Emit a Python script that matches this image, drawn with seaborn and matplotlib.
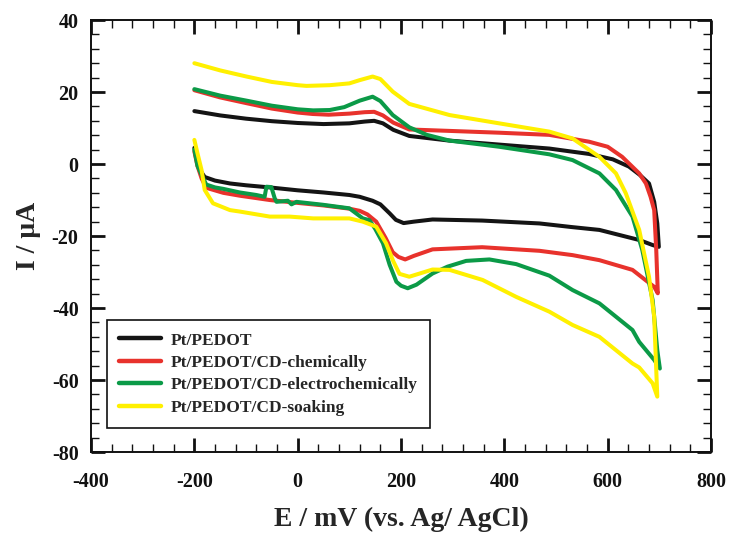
import numpy as np
import pandas as pd
import matplotlib
matplotlib.use("Agg")
import matplotlib.pyplot as plt
import seaborn as sns
from matplotlib.ticker import MultipleLocator

# ---- data ----
labels = ["Pt/PEDOT", "Pt/PEDOT/CD-chemically",
          "Pt/PEDOT/CD-electrochemically", "Pt/PEDOT/CD-soaking"]
colors = ["#141414", "#e8322c", "#0b9a47", "#fff000"]

pedot_E = [-200, -150, -100, -50, 0, 50, 100, 130, 148, 165, 185, 216, 294, 390, 487, 564, 610, 641,
           662, 680, 690, 696, 699,
           687, 661, 584, 530, 468, 357, 261, 225, 205, 190, 178, 160, 145, 120, 100, 50, 0, -54,
           -100, -131, -160, -180, -190, -196, -200]
pedot_I = [14.7, 13.5, 12.6, 11.9, 11.4, 11.1, 11.3, 11.8, 12.0, 11.3, 9.5, 7.8, 6.5, 5.4, 4.3, 2.8, 1.3, -0.7,
           -3.0, -5.4, -10.5, -16.5, -23.0,
           -22.5, -21.1, -18.3, -17.5, -16.5, -15.7, -15.4, -16.0, -16.4, -15.5, -13.7, -11.2, -10.2, -9.1,
           -8.6, -7.9, -7.3, -6.5, -5.9, -5.4, -4.6, -3.6, -1.5, 1.5, 4.5]

chem_E = [-200, -150, -99, -50, 0, 29, 60, 100, 130, 148, 165, 185, 216, 294, 390, 487, 564, 600, 628,
          661, 674, 683, 690, 694, 697,
          690, 680, 648, 584, 532, 468, 357, 261, 225, 208, 195, 184, 170, 152, 135, 120, 100, 50, 0,
          -54, -112, -144, -177, -186, -194, -200]
chem_I = [20.5, 18.5, 16.9, 15.4, 14.3, 13.9, 13.7, 14.0, 14.4, 14.5, 13.5, 11.5, 9.6, 9.2, 8.7, 8.1, 6.2,
          4.8, 2.0, -2.6, -5.4, -9.1, -12.8, -23.9, -35.9,
          -34.1, -33.0, -29.4, -26.7, -25.3, -24.1, -23.1, -23.7, -25.5, -26.5, -25.8, -24.5, -20.5, -16.0,
          -14.0, -13.0, -12.4, -11.5, -10.8, -10.0, -8.8, -8.0, -6.6, -4.0, -0.5, 3.5]

echem_E = [-200, -150, -99, -50, 0, 30, 62, 90, 120, 145, 160, 184, 216, 250, 294, 390, 487, 532, 584,
           616, 648, 667, 687, 696, 701,
           690, 661, 648, 584, 532, 487, 423, 371, 326, 290, 261, 230, 213, 200, 191, 178, 165, 150, 139,
           126, 100, 48, -2.5, -12, -19, -41, -44.5, -51, -60.5, -64, -80, -112, -144, -160, -177, -186,
           -194, -200]
echem_I = [20.8, 19.0, 17.6, 16.2, 15.2, 14.9, 15.0, 15.8, 17.6, 18.7, 17.5, 13.6, 10.2, 8.1, 6.5, 4.8, 2.7,
           1.1, -2.6, -7.2, -14.6, -23.9, -37.8, -51.7, -56.8,
           -54.4, -49.4, -46.1, -38.7, -35.0, -31.0, -27.8, -26.5, -26.9, -28.5, -30.4, -33.5, -34.5, -33.8,
           -32.7, -28.0, -22.0, -18.0, -15.6, -15.1, -12.3, -11.3, -10.5, -11.2, -10.2, -10.5, -9.5, -6.4,
           -6.3, -9.1, -8.6, -7.9, -6.9, -6.5, -5.7, -3.0, -0.5, 4.0]

soak_E = [-200, -150, -99, -50, 0, 17, 62, 100, 120, 145, 160, 184, 216, 294, 390, 487, 532, 584, 616,
          635, 661, 680, 690, 696,
          687, 661, 648, 584, 532, 487, 423, 358, 294, 261, 216, 197, 185, 171, 152, 126, 100, 81, 30,
          -15.5, -54, -112, -131, -164, -180, -186, -194, -200]
soak_I = [28.0, 26.0, 24.3, 22.8, 21.9, 21.7, 21.9, 22.4, 23.3, 24.3, 23.6, 20.1, 16.7, 13.6, 11.3, 9.0,
          7.1, 2.0, -2.6, -8.1, -18.3, -31.3, -42.4, -64.6,
          -60.9, -56.5, -55.4, -48.0, -44.7, -41.0, -36.9, -32.2, -29.4, -29.3, -31.3, -30.5, -27.0, -22.0,
          -17.4, -16.0, -15.1, -15.1, -15.1, -14.6, -14.6, -13.2, -12.8, -10.9, -7.2, -1.7, 3.0, 6.7]

series_E = [pedot_E, chem_E, echem_E, soak_E]
series_I = [pedot_I, chem_I, echem_I, soak_I]

frames = []
for lab, e, i in zip(labels, series_E, series_I):
    frames.append(pd.DataFrame({"E": e, "I": i, "series": lab}))
df = pd.concat(frames, ignore_index=True)

# ---- plot ----
sns.set_theme(style="white")
plt.rcParams["font.family"] = ["Liberation Serif", "DejaVu Serif"]
plt.rcParams["font.weight"] = "bold"
plt.rcParams["axes.unicode_minus"] = False
plt.rcParams["lines.solid_joinstyle"] = "round"
plt.rcParams["lines.solid_capstyle"] = "round"

fig = plt.figure(figsize=(7.30, 5.35), dpi=100)
ax = fig.add_axes([0.1247, 0.155, 0.974 - 0.1247, 0.9626 - 0.155])

sns.lineplot(data=df, x="E", y="I", hue="series", hue_order=labels,
             palette=dict(zip(labels, colors)), sort=False, estimator=None,
             units="series", linewidth=2.9, ax=ax, legend=True)

ax.set_xlim(-400, 800)
ax.set_ylim(-80, 40)
ax.xaxis.set_major_locator(MultipleLocator(200))
ax.xaxis.set_minor_locator(MultipleLocator(40))
ax.yaxis.set_major_locator(MultipleLocator(20))
ax.yaxis.set_minor_locator(MultipleLocator(4))
ax.tick_params(which="both", direction="in", top=True, right=True, bottom=True, left=True,
               colors="#111111")
ax.tick_params(which="major", length=10, width=2.0, labelsize=14.5, pad=9)
ax.tick_params(axis="x", which="major", pad=14)
ax.tick_params(which="minor", length=6, width=1.0)
for lab in ax.get_xticklabels() + ax.get_yticklabels():
    lab.set_fontweight("bold")
for sp in ax.spines.values():
    sp.set_linewidth(1.4)
    sp.set_color("#111111")

ax.set_xlabel("E / mV (vs. Ag/ AgCl)", fontsize=20, fontweight="bold", labelpad=11)
ax.set_ylabel("I / μA", fontsize=20, fontweight="bold", labelpad=8)

leg = ax.legend(loc="lower left", bbox_to_anchor=(0.026, 0.056), borderaxespad=0,
                frameon=True, fancybox=False, edgecolor="#111111", framealpha=1,
                prop={"family": "Liberation Serif", "weight": "bold", "size": 12.5},
                handlelength=2.4, handletextpad=0.55, labelspacing=0.36, borderpad=0.7)
leg.get_frame().set_linewidth(1.2)
for h in leg.get_lines():
    h.set_linewidth(3.2)

fig.savefig("out.png", dpi=100)
